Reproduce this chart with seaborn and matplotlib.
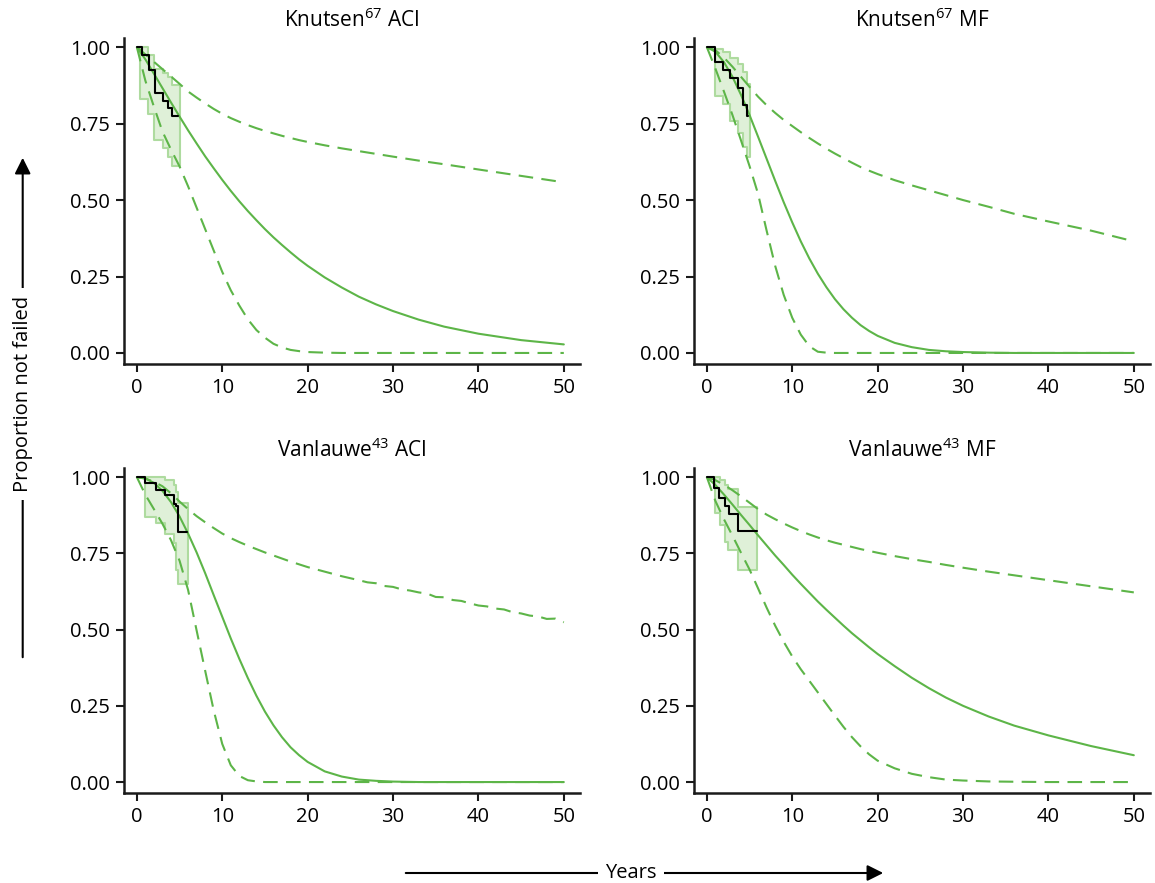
import numpy as np
import matplotlib
matplotlib.use("Agg")
import matplotlib.pyplot as plt
from matplotlib.patches import FancyArrowPatch
import seaborn as sns

# time grid (years) for the model curves
years = list(range(0, 21)) + [22, 24, 26, 28, 30, 33, 36, 40, 45, 50]

# Knutsen ACI
k_aci_mid = [1.0, 0.96, 0.913, 0.866, 0.819, 0.773, 0.728, 0.685, 0.643, 0.604, 0.566,
             0.530, 0.496, 0.464, 0.434, 0.405, 0.378, 0.353, 0.329, 0.306, 0.285,
             0.247, 0.214, 0.184, 0.159, 0.137, 0.109, 0.086, 0.063, 0.042, 0.028]
k_aci_hi = [1.0, 0.976, 0.952, 0.928, 0.904, 0.88, 0.855, 0.835, 0.816, 0.798, 0.782,
            0.768, 0.756, 0.745, 0.735, 0.726, 0.718, 0.71, 0.703, 0.696, 0.69,
            0.679, 0.669, 0.66, 0.651, 0.642, 0.629, 0.617, 0.60, 0.579, 0.558]
k_aci_lo = [1.0, 0.89, 0.805, 0.724, 0.665, 0.61, 0.545, 0.475, 0.405, 0.335, 0.265,
            0.205, 0.155, 0.11, 0.075, 0.05, 0.03, 0.018, 0.01, 0.006, 0.003,
            0.001, 0, 0, 0, 0, 0, 0, 0, 0, 0]
k_aci_km_t = [0, 0.6, 1.4, 2.1, 3.1, 3.7, 4.1, 4.85]
k_aci_km = [1.0, 0.975, 0.925, 0.85, 0.825, 0.80, 0.775, 0.775]
k_aci_ci_t = [0.35, 1.35, 2.0, 3.1, 3.7, 4.1, 5.0]
k_aci_ci_hi = [1.0, 0.975, 0.93, 0.914, 0.904, 0.876, 0.876]
k_aci_ci_lo = [0.832, 0.783, 0.696, 0.669, 0.642, 0.611, 0.611]

# Knutsen MF
k_mf_mid = [1.0, 0.985, 0.951, 0.903, 0.844, 0.778, 0.707, 0.635, 0.563, 0.493, 0.427,
            0.365, 0.309, 0.259, 0.215, 0.176, 0.143, 0.115, 0.091, 0.072, 0.056,
            0.033, 0.019, 0.010, 0.0055, 0.003, 0.001, 0, 0, 0, 0]
k_mf_hi = [1.0, 0.99, 0.966, 0.936, 0.903, 0.87, 0.838, 0.81, 0.785, 0.762, 0.742,
           0.722, 0.703, 0.685, 0.668, 0.652, 0.637, 0.622, 0.608, 0.596, 0.585,
           0.565, 0.548, 0.532, 0.516, 0.50, 0.478, 0.455, 0.43, 0.40, 0.365]
k_mf_lo = [1.0, 0.93, 0.855, 0.778, 0.695, 0.611, 0.52, 0.40, 0.285, 0.19, 0.115,
           0.06, 0.022, 0.004, 0.001, 0, 0, 0, 0, 0, 0,
           0, 0, 0, 0, 0, 0, 0, 0, 0, 0]
k_mf_km_t = [0, 0.94, 1.9, 2.7, 3.7, 4.25, 4.65, 4.85]
k_mf_km = [1.0, 0.95, 0.925, 0.898, 0.865, 0.81, 0.775, 0.775]
k_mf_ci_t = [0.94, 1.9, 2.7, 3.7, 4.25, 4.65, 5.03]
k_mf_ci_hi = [0.995, 0.985, 0.965, 0.945, 0.92, 0.88, 0.88]
k_mf_ci_lo = [0.84, 0.815, 0.76, 0.72, 0.675, 0.64, 0.64]

# Vanlauwe ACI
v_aci_mid = [1.0, 0.996, 0.981, 0.955, 0.918, 0.871, 0.815, 0.753, 0.685, 0.613, 0.542,
             0.471, 0.404, 0.341, 0.283, 0.231, 0.186, 0.147, 0.114, 0.088, 0.066,
             0.035, 0.018, 0.008, 0.004, 0.0015, 0, 0, 0, 0, 0]
v_aci_hi_t = list(range(0, 21)) + [22, 24] + list(range(26, 51))
v_aci_hi = [1.0, 0.995, 0.985, 0.97, 0.947, 0.92, 0.895, 0.872, 0.852, 0.833, 0.815,
            0.80, 0.787, 0.775, 0.764, 0.753, 0.743, 0.733, 0.723, 0.714, 0.705,
            0.69, 0.675,
            0.662, 0.655, 0.652, 0.643, 0.640, 0.632, 0.628, 0.622, 0.618, 0.607,
            0.606, 0.597, 0.594, 0.586, 0.579, 0.576, 0.569, 0.566, 0.557, 0.553,
            0.546, 0.543, 0.535, 0.536, 0.524]
v_aci_lo = [1.0, 0.942, 0.895, 0.847, 0.793, 0.726, 0.63, 0.497, 0.365, 0.235, 0.125,
            0.055, 0.02, 0.006, 0.002, 0, 0, 0, 0, 0, 0,
            0, 0, 0, 0, 0, 0, 0, 0, 0, 0]
v_aci_km_t = [0, 0.94, 2.3, 3.3, 4.3, 4.6, 4.8, 5.82]
v_aci_km = [1.0, 0.98, 0.958, 0.94, 0.912, 0.905, 0.82, 0.82]
v_aci_ci_t = [0.94, 2.3, 3.3, 4.3, 4.6, 4.8, 6.0]
v_aci_ci_hi = [1.0, 1.0, 0.99, 0.975, 0.95, 0.914, 0.914]
v_aci_ci_lo = [0.87, 0.848, 0.815, 0.783, 0.695, 0.651, 0.651]

# Vanlauwe MF
v_mf_mid = [1.0, 0.974, 0.943, 0.910, 0.876, 0.843, 0.809, 0.776, 0.743, 0.712, 0.680,
            0.650, 0.621, 0.592, 0.565, 0.539, 0.513, 0.488, 0.465, 0.442, 0.420,
            0.380, 0.342, 0.308, 0.277, 0.25, 0.215, 0.185, 0.153, 0.118, 0.088]
v_mf_hi = [1.0, 0.99, 0.975, 0.957, 0.937, 0.916, 0.895, 0.877, 0.862, 0.848, 0.835,
           0.823, 0.812, 0.802, 0.793, 0.785, 0.778, 0.771, 0.764, 0.758, 0.752,
           0.741, 0.731, 0.722, 0.712, 0.703, 0.69, 0.678, 0.662, 0.642, 0.622]
v_mf_lo = [1.0, 0.922, 0.862, 0.808, 0.752, 0.697, 0.635, 0.572, 0.513, 0.46, 0.412,
           0.37, 0.332, 0.294, 0.256, 0.218, 0.181, 0.147, 0.117, 0.091, 0.07,
           0.045, 0.027, 0.016, 0.008, 0.005, 0.002, 0.001, 0, 0, 0]
v_mf_km_t = [0, 0.8, 1.4, 2.1, 2.6, 3.7, 5.82]
v_mf_km = [1.0, 0.965, 0.93, 0.905, 0.88, 0.823, 0.823]
v_mf_ci_t = [0.94, 1.5, 2.1, 2.5, 3.7, 5.82]
v_mf_ci_hi = [1.0, 0.99, 0.975, 0.96, 0.903, 0.903]
v_mf_ci_lo = [0.881, 0.843, 0.788, 0.761, 0.695, 0.695]

titles = [r"Knutsen$^{\mathregular{67}}$ ACI", r"Knutsen$^{\mathregular{67}}$ MF",
          r"Vanlauwe$^{\mathregular{43}}$ ACI", r"Vanlauwe$^{\mathregular{43}}$ MF"]

panels = [
    (years, k_aci_mid, years, k_aci_hi, k_aci_lo, k_aci_km_t, k_aci_km, k_aci_ci_t, k_aci_ci_hi, k_aci_ci_lo),
    (years, k_mf_mid, years, k_mf_hi, k_mf_lo, k_mf_km_t, k_mf_km, k_mf_ci_t, k_mf_ci_hi, k_mf_ci_lo),
    (years, v_aci_mid, v_aci_hi_t, v_aci_hi, v_aci_lo, v_aci_km_t, v_aci_km, v_aci_ci_t, v_aci_ci_hi, v_aci_ci_lo),
    (years, v_mf_mid, years, v_mf_hi, v_mf_lo, v_mf_km_t, v_mf_km, v_mf_ci_t, v_mf_ci_hi, v_mf_ci_lo),
]

sns.set_theme(style="ticks")
plt.rcParams['font.family'] = ['Open Sans', 'DejaVu Sans']
plt.rcParams['mathtext.default'] = 'regular'
plt.rcParams['text.color'] = 'black'
plt.rcParams['xtick.color'] = 'black'
plt.rcParams['ytick.color'] = 'black'

green = '#5DB548'
band_fill = '#dff0d8'
band_edge = '#aedb9f'

fig = plt.figure(figsize=(11.55, 8.83), dpi=100)
boxes = [(0.1074, 0.5878, 0.3948, 0.3692), (0.6009, 0.5878, 0.3948, 0.3692),
         (0.1074, 0.1019, 0.3948, 0.3681), (0.6009, 0.1019, 0.3948, 0.3681)]

for box, title, p in zip(boxes, titles, panels):
    t, mid, t_hi, hi, lo, km_t, km, ci_t, ci_hi, ci_lo = p
    ax = fig.add_axes(box)
    ax.fill_between(ci_t, ci_lo, ci_hi, step='post', facecolor=band_fill,
                    edgecolor=band_edge, linewidth=1.5, zorder=1)
    sns.lineplot(x=t_hi, y=hi, ax=ax, color=green, lw=1.5, linestyle=(0, (7, 4)), zorder=2)
    sns.lineplot(x=t, y=lo, ax=ax, color=green, lw=1.5, linestyle=(0, (7, 4)), zorder=2)
    sns.lineplot(x=t, y=mid, ax=ax, color=green, lw=1.5, zorder=3)
    sns.lineplot(x=km_t, y=km, ax=ax, color='black', lw=1.5, drawstyle='steps-post', zorder=4)
    ax.set_xlim(-1.5, 51.9)
    ax.set_ylim(-0.036, 1.03)
    ax.set_xticks([0, 10, 20, 30, 40, 50])
    ax.set_yticks([0, 0.25, 0.5, 0.75, 1.0])
    ax.set_yticklabels(['0.00', '0.25', '0.50', '0.75', '1.00'])
    ax.set_xlabel('')
    ax.set_ylabel('')
    ax.tick_params(labelsize=14.5, width=1.5, length=6, color='#1a1a1a', pad=4)
    for s in ['left', 'bottom']:
        ax.spines[s].set_linewidth(1.8)
        ax.spines[s].set_color('#1a1a1a')
    sns.despine(ax=ax)
    ax.set_title(title, fontsize=15, pad=8)

# axis captions with arrows
fig.add_artist(FancyArrowPatch((22.7 / 1155, 1 - 660 / 883), (22.7 / 1155, 1 - 155 / 883),
                               transform=fig.transFigure, arrowstyle='-|>',
                               mutation_scale=24, lw=1.5, color='black'))
fig.text(22.7 / 1155, 1 - 394 / 883, 'Proportion not failed', rotation=90, ha='center',
         va='center', fontsize=14.5,
         bbox=dict(facecolor='white', edgecolor='none', pad=6))
fig.add_artist(FancyArrowPatch((403 / 1155, 1 - 873 / 883), (886 / 1155, 1 - 873 / 883),
                               transform=fig.transFigure, arrowstyle='-|>',
                               mutation_scale=24, lw=1.5, color='black'))
fig.text(631 / 1155, 1 - 873 / 883, 'Years', ha='center', va='center', fontsize=14.5,
         bbox=dict(facecolor='white', edgecolor='none', pad=5))

fig.savefig('out.png', dpi=100)
